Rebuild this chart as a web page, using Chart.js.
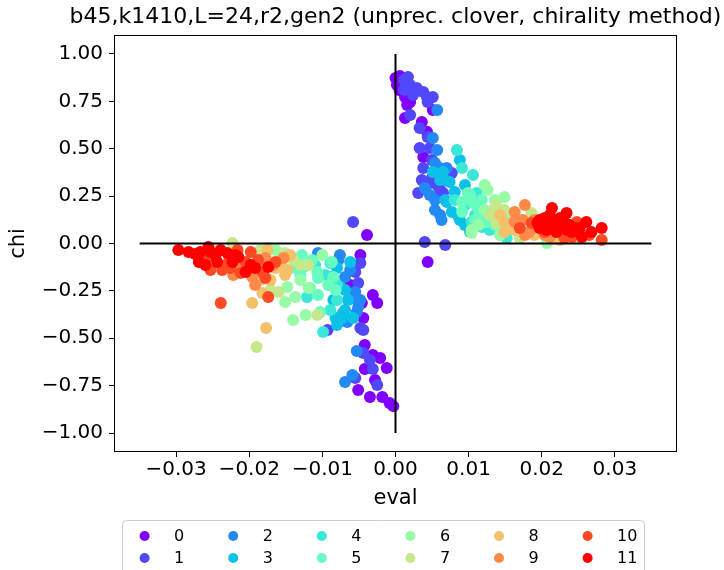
<!DOCTYPE html>
<html><head><meta charset="utf-8">
<script src="https://cdn.jsdelivr.net/npm/chart.js@4"></script>
<style>html,body{margin:0;padding:0;background:#fff}</style>
</head><body>
<canvas id="c" width="724" height="570"></canvas>
<script>
const titleText = 'b45,k1410,L=24,r2,gen2 (unprec. clover, chirality method)';
const categories = ['0','1','2','3','4','5','6','7','8','9','10','11'];
const xTicks = [-0.03,-0.02,-0.01,0,0.01,0.02,0.03];
const xTickLabels = ['\u22120.03','\u22120.02','\u22120.01','0.00','0.01','0.02','0.03'];
const yTicks = [-1,-0.75,-0.5,-0.25,0,0.25,0.5,0.75,1];
const yTickLabels = ['\u22121.00','\u22120.75','\u22120.50','\u22120.25','0.00','0.25','0.50','0.75','1.00'];
const hLineX = [-0.035, 0.035];
const vLineY = [-1, 1];

const series0 = [[0.0003,0.863],[0.0006,0.884],[0.0002,0.836],[0.0009,0.826],[0.0013,0.773],[0.0020,0.747],[0.0051,0.704],[0.0013,0.662],[0.0036,0.641],[0.0043,0.589],[0.0038,0.456],[0.0044,-0.098],
[0.0006,0.809],[0.0016,0.731],[0.0000,0.873],
[-0.0039,0.045],[-0.0048,-0.061],[-0.0062,-0.219],[-0.0031,-0.272],[-0.0025,-0.314],[-0.0046,-0.314],[-0.0044,-0.393],[-0.0031,-0.588],[-0.0021,-0.604],[-0.0012,-0.657],[-0.0042,-0.662],[-0.0051,-0.773],[-0.0035,-0.810],[-0.0018,-0.810],[-0.0008,-0.842],[-0.0003,-0.858],
[-0.0042,-0.536],[-0.0028,-0.720]];
const series1 = [[0.0017,0.879],[0.0012,0.863],[0.0020,0.836],[0.0024,0.784],[0.0038,0.799],[0.0043,0.773],[0.0051,0.773],[0.0020,0.678],[0.0033,0.609],[0.0044,0.562],[0.0033,0.504],[0.0047,0.504],[0.0038,0.398],[0.0077,0.372],[0.0050,0.346],[0.0043,0.309],[0.0057,0.309],[0.0031,0.266],[0.0065,0.266],[0.0040,0.008],[0.0068,-0.008],
[0.0012,0.810],[0.0029,0.820],[0.0044,0.747],[0.0061,0.282],[0.0050,0.441],[0.0036,0.335],
[-0.0058,0.113],[-0.0048,-0.103],[-0.0051,-0.208],[-0.0093,-0.456],[-0.0048,-0.446],[-0.0044,-0.456],[-0.0044,-0.578],[-0.0031,-0.662],[-0.0055,-0.710],[-0.0025,-0.747],
[-0.0055,-0.150],[-0.0035,-0.615]];
const series2 = [[0.0057,0.704],[0.0051,0.557],[0.0054,0.425],[0.0061,0.398],[0.0070,0.398],[0.0040,0.293],[0.0054,0.230],[0.0054,0.177],[0.0063,0.124],
[0.0057,0.493],[0.0068,0.335],[0.0061,0.150],[0.0047,0.256],
[-0.0106,-0.050],[-0.0078,-0.087],[-0.0069,-0.177],[-0.0055,-0.256],[-0.0058,-0.288],[-0.0048,-0.298],[-0.0051,-0.335],[-0.0053,-0.361],[-0.0053,-0.567],[-0.0059,-0.694],[-0.0069,-0.731],
[-0.0076,-0.061],[-0.0062,-0.140],[-0.0066,-0.414]];
const series3 = [[0.0088,0.441],[0.0051,0.377],[0.0065,0.377],[0.0074,0.325],[0.0095,0.309],[0.0070,0.219],[0.0077,0.166],[0.0088,0.124],[0.0102,0.061],
[0.0081,0.272],[0.0068,0.230],[0.0085,0.150],[0.0095,0.098],[0.0061,0.335],
[-0.0080,-0.129],[-0.0087,-0.177],[-0.0076,-0.230],[-0.0085,-0.298],[-0.0069,-0.351],[-0.0073,-0.393],[-0.0058,-0.393],[-0.0080,-0.430],[-0.0072,-0.367],
[-0.0069,-0.245],[-0.0065,-0.298],[-0.0082,-0.393],[-0.0062,-0.098]];
const series4 = [[0.0084,0.493],[0.0091,0.398],[0.0106,0.361],[0.0111,0.266],[0.0081,0.230],[0.0104,0.113],[0.0118,0.087],[0.0152,0.029],
[0.0095,0.203],[0.0129,0.071],[0.0109,0.150],
[-0.0089,-0.103],[-0.0080,-0.298],[-0.0121,-0.282],[-0.0099,-0.467],[-0.0080,-0.219],
[-0.0110,-0.113],[-0.0096,-0.166],[-0.0089,-0.351]];
const series5 = [[0.0099,0.266],[0.0091,0.219],[0.0106,0.214],[0.0091,0.166],[0.0115,0.166],[0.0126,0.113],[0.0119,0.108],[0.0113,0.187],[0.0125,0.140],
[0.0102,0.256],[0.0118,0.230],[0.0109,0.124],[0.0136,0.098],
[-0.0128,-0.061],[-0.0087,-0.098],[-0.0126,-0.124],[-0.0107,-0.150],[-0.0085,-0.177],[-0.0106,-0.182],[-0.0092,-0.219],[-0.0117,-0.235],[-0.0103,-0.361],[-0.0130,-0.166],
[-0.0114,-0.087],[-0.0106,-0.272],[-0.0137,-0.129],[-0.0082,-0.245]];
const series6 = [[0.0122,0.309],[0.0126,0.282],[0.0149,0.245],[0.0122,0.177],[0.0104,0.071],[0.0104,0.055],[0.0207,0.003],
[0.0113,0.098],[0.0136,0.230],[0.0156,0.150],[0.0143,0.045],
[-0.0175,-0.024],[-0.0164,-0.034],[-0.0100,-0.061],[-0.0148,-0.230],[-0.0119,-0.235],[-0.0137,-0.282],[-0.0123,-0.377],[-0.0140,-0.404],
[-0.0157,-0.061],[-0.0130,-0.193],[-0.0151,-0.309]];
const series7 = [[0.0138,0.203],[0.0136,0.187],[0.0138,0.150],[0.0138,0.108],[0.0186,0.161],[0.0170,0.029],
[0.0149,0.177],[0.0129,0.150],[0.0170,0.124],
[-0.0223,0.003],[-0.0242,-0.034],[-0.0151,-0.050],[-0.0140,-0.087],[-0.0119,-0.113],[-0.0160,-0.256],[-0.0107,-0.377],[-0.0190,-0.546],
[-0.0185,-0.034],[-0.0130,-0.113],[-0.0171,-0.245]];
const series8 = [[0.0149,0.113],[0.0159,0.108],[0.0149,0.061],[0.0225,0.018],[0.0248,0.029],[0.0207,0.055],
[0.0163,0.071],[0.0190,0.045],[0.0143,0.150],[0.0218,0.029],
[-0.0175,-0.034],[-0.0155,-0.124],[-0.0151,-0.166],[-0.0148,-0.140],[-0.0185,-0.193],[-0.0182,-0.261],[-0.0196,-0.314],[-0.0177,-0.446],
[-0.0164,-0.129],[-0.0171,-0.193],[-0.0144,-0.061]];
const series9 = [[0.0177,0.203],[0.0163,0.166],[0.0163,0.113],[0.0174,0.124],[0.0183,0.061],[0.0211,0.034],
[0.0190,0.124],[0.0177,0.045],[0.0204,0.045],
[-0.0222,-0.166],[-0.0196,-0.177],[-0.0185,-0.124],[-0.0167,-0.113],[-0.0153,-0.077],[-0.0226,-0.071],
[-0.0212,-0.113],[-0.0178,-0.077],[-0.0192,-0.219]];
const series10 = [[0.0170,0.082],[0.0186,0.108],[0.0248,0.113],[0.0241,0.034],[0.0282,0.018],[0.0230,0.071],[0.0200,0.108],
[0.0218,0.098],[0.0265,0.045],[0.0204,0.061],[0.0231,0.029],
[-0.0216,-0.034],[-0.0198,-0.045],[-0.0188,-0.087],[-0.0237,-0.140],[-0.0253,-0.140],[-0.0212,-0.156],[-0.0178,-0.182],[-0.0239,-0.314],[-0.0174,-0.282],[-0.0256,-0.071],[-0.0229,-0.103],
[-0.0205,-0.098],[-0.0226,-0.129],[-0.0182,-0.150],[-0.0164,-0.098],[-0.0267,-0.077]];
const series11 = [[0.0214,0.187],[0.0234,0.161],[0.0194,0.108],[0.0204,0.135],[0.0215,0.108],[0.0225,0.087],[0.0238,0.098],[0.0261,0.113],[0.0207,0.071],[0.0220,0.061],[0.0235,0.071],[0.0252,0.082],[0.0255,0.034],[0.0282,0.082],[0.0197,0.124],[0.0241,0.061],[0.0211,0.098],
[0.0225,0.135],[0.0245,0.082],[0.0268,0.061],[0.0211,0.150],[0.0231,0.113],[0.0197,0.082],
[-0.0297,-0.034],[-0.0274,-0.055],[-0.0267,-0.045],[-0.0256,-0.018],[-0.0253,-0.045],[-0.0260,-0.113],[-0.0244,-0.098],[-0.0230,-0.050],[-0.0215,-0.071],[-0.0205,-0.150],[-0.0192,-0.129],[-0.0174,-0.124],[-0.0219,-0.061],
[-0.0283,-0.045],[-0.0246,-0.061],[-0.0269,-0.098],[-0.0223,-0.098],[-0.0198,-0.113],[-0.0239,-0.034]];

const allSeries = [series0,series1,series2,series3,series4,series5,series6,series7,series8,series9,series10,series11];
const colors = ['#8000ff','#5148fc','#238af5','#0cc1e8','#3ae8d7','#68fcc1','#97fca7','#c5e88a','#f3c16a','#ff8a48','#ff4824','#ff0000'];
const F = 'DejaVu Sans';

const datasets = allSeries.map((s,i)=>({
  label: categories[i],
  data: s.map(p=>({x:p[0], y:p[1]})),
  backgroundColor: colors[i],
  borderWidth: 0,
  pointRadius: 6,
  pointHoverRadius: 6,
  order: 20 - i
}));
datasets.push({label:'_h', data: hLineX.map(x=>({x, y:0})), showLine:true, borderColor:'#000', borderWidth:2, pointRadius:0, order:-1});
datasets.push({label:'_v', data: vLineY.map(y=>({x:0, y})), showLine:true, borderColor:'#000', borderWidth:2, pointRadius:0, order:-2});

const framePlugin = {
  id:'frame',
  afterDraw(chart){
    const {ctx, chartArea:a} = chart;
    ctx.save();
    ctx.strokeStyle = '#000'; ctx.lineWidth = 1;
    ctx.strokeRect(Math.round(a.left)+0.5, Math.round(a.top)+0.5, Math.round(a.right-a.left)-1, Math.round(a.bottom-a.top)-1);
    ctx.fillStyle = '#000';
    ctx.font = '22px "' + F + '"';
    ctx.textAlign = 'center'; ctx.textBaseline = 'middle';
    ctx.fillText(titleText, (a.left + a.right) / 2, 17.5);
    ctx.restore();
  }
};

const legendPlugin = {
  id:'mplLegend',
  afterDraw(chart){
    const ctx = chart.ctx;
    ctx.save();
    const bx=122.5, by=520.5, bw=522, bh=60, r=4;
    ctx.beginPath();
    ctx.moveTo(bx+r,by); ctx.lineTo(bx+bw-r,by); ctx.quadraticCurveTo(bx+bw,by,bx+bw,by+r);
    ctx.lineTo(bx+bw,by+bh-r); ctx.quadraticCurveTo(bx+bw,by+bh,bx+bw-r,by+bh);
    ctx.lineTo(bx+r,by+bh); ctx.quadraticCurveTo(bx,by+bh,bx,by+bh-r);
    ctx.lineTo(bx,by+r); ctx.quadraticCurveTo(bx,by,bx+r,by); ctx.closePath();
    ctx.fillStyle='rgba(255,255,255,0.8)'; ctx.fill();
    ctx.strokeStyle='#cccccc'; ctx.lineWidth=1; ctx.stroke();
    ctx.font = '16px "' + F + '"';
    ctx.textBaseline='middle'; ctx.textAlign='left';
    categories.forEach((lab,i)=>{
      const col = Math.floor(i/2), row = i%2;
      const mx = 144.6 + col*88.6, my = 536 + row*22;
      ctx.beginPath(); ctx.arc(mx,my,5,0,Math.PI*2);
      ctx.fillStyle = chart.data.datasets[i].backgroundColor; ctx.fill();
      ctx.fillStyle='#000';
      ctx.fillText(lab, mx+29.5, my+1);
    });
    ctx.restore();
  }
};

new Chart(document.getElementById('c'), {
  type:'scatter',
  data:{datasets},
  options:{
    responsive:false, animation:false, devicePixelRatio:1,
    layout:{padding:{left:6.4, right:47, top:35, bottom:58.4}},
    plugins:{
      legend:{display:false}, tooltip:{enabled:false}, title:{display:false}
    },
    scales:{
      x:{type:'linear', min:-0.0385, max:0.0385,
        afterBuildTicks: s=>{ s.ticks = xTicks.map(v=>({value:v})); },
        afterFit: s=>{ s.height = 59.6; },
        ticks:{callback:(v,i)=>xTickLabels[i], color:'#000', font:{family:F, size:20}, padding:1, maxRotation:0, autoSkip:false},
        grid:{drawOnChartArea:false, color:'#000', tickLength:5, tickWidth:1},
        border:{display:false},
        title:{display:true, text:'eval', color:'#000', font:{family:F, size:21}, padding:0}
      },
      y:{type:'linear', min:-1.1, max:1.1,
        afterBuildTicks: s=>{ s.ticks = yTicks.map(v=>({value:v})); },
        afterFit: s=>{ s.width = 107.6; },
        ticks:{callback:(v,i)=>yTickLabels[i], color:'#000', font:{family:F, size:20}, padding:6, autoSkip:false},
        grid:{drawOnChartArea:false, color:'#000', tickLength:5, tickWidth:1},
        border:{display:false},
        title:{display:true, text:'chi', color:'#000', font:{family:F, size:21}, padding:0}
      }
    }
  },
  plugins:[framePlugin, legendPlugin]
});
</script>
</body></html>
